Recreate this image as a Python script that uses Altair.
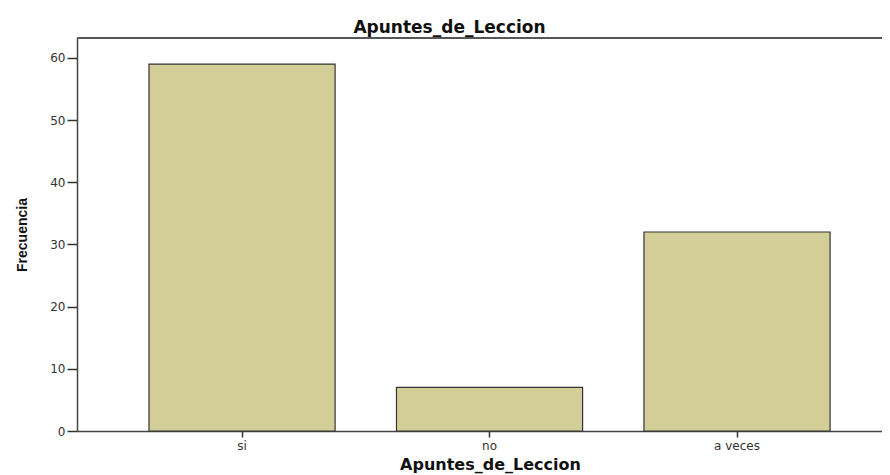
import altair as alt
import pandas as pd

categories = ["si", "no", "a veces"]
counts = [59, 7, 32]

df = pd.DataFrame({"cat": categories, "n": counts})

W, H = 805, 393
FONT = "DejaVu Sans"

bars = alt.Chart(df).mark_bar(
    color="#D3CE98", stroke="#333333", strokeWidth=1.2
).encode(
    x=alt.X("cat:N", sort=categories,
            scale=alt.Scale(paddingInner=0.248, paddingOuter=0.2503, align=0.581),
            axis=alt.Axis(title="Apuntes_de_Leccion", labelAngle=0,
                          labelFont=FONT, labelFontSize=12, labelColor="#333333",
                          labelPadding=3, tickSize=6, tickColor="#333333", tickWidth=1.5,
                          domainColor="#444444", domainWidth=1.5,
                          titleFont=FONT, titleFontSize=16, titleFontWeight="bold",
                          titleColor="#111111", titleX=413, titleY=38,
                          titleBaseline="alphabetic")),
    y=alt.Y("n:Q", scale=alt.Scale(domain=[0, 63.2], nice=False),
            axis=alt.Axis(title="Frecuencia", values=[0, 10, 20, 30, 40, 50, 60],
                          grid=False, labelFont=FONT, labelFontSize=12,
                          labelColor="#333333", labelPadding=2,
                          tickSize=10, tickColor="#333333", tickWidth=1.5,
                          domainColor="#444444", domainWidth=1.5,
                          titleFont="Liberation Sans", titleFontSize=14,
                          titleFontWeight="bold", titleColor="#111111",
                          titleAngle=270, titleBaseline="middle",
                          titleX=-55, titleY=H / 2, titleAlign="center")),
)

top_border = alt.Chart(df).mark_rule(color="#555555", strokeWidth=1.5).encode(
    x=alt.value(0), x2=alt.value(W), y=alt.value(0)
)

chart = alt.layer(bars, top_border).properties(
    width=W, height=H,
    title=alt.TitleParams("Apuntes_de_Leccion", font=FONT, fontSize=17,
                          fontWeight="bold", color="#111111", anchor="middle",
                          frame="group", dx=-30, dy=19, offset=6, baseline="alphabetic"),
    autosize=alt.AutoSizeParams(type="none"),
    padding={"left": 69, "top": 30, "right": 0, "bottom": 44},
).configure_view(
    fill="#EFEFEF", stroke=None
).configure(background="white")

chart.save("out.html", embed_options={"renderer": "svg", "actions": False})
